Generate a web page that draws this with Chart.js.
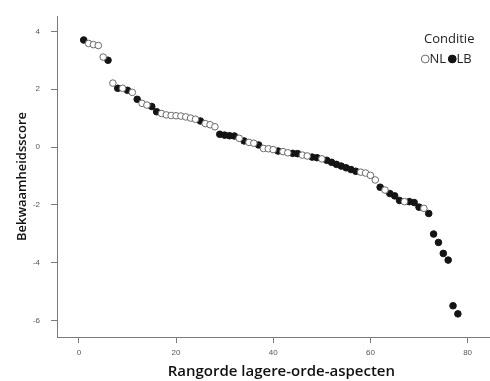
<!DOCTYPE html>
<html>
<head>
<meta charset="utf-8">
<script src="https://cdn.jsdelivr.net/npm/chart.js@4.4.1/dist/chart.umd.min.js"></script>
<style>
  html, body { margin:0; padding:0; background:#fff; overflow:hidden; }
  #wrap { position:relative; width:510px; height:381px; }
</style>
</head>
<body>
<div id="wrap"><canvas id="chart"></canvas></div>
<script>
'use strict';

// rank of each lower-order aspect (x) and its competence score (y)
const ranks = [
  1, 2, 3, 4, 5, 6, 7, 8, 9, 10, 11, 12, 13, 14, 15, 16, 17, 18, 19, 20,
  21, 22, 23, 24, 25, 26, 27, 28, 29, 30, 31, 32, 33, 34, 35, 36, 37, 38, 39, 40,
  41, 42, 43, 44, 45, 46, 47, 48, 49, 50, 51, 52, 53, 54, 55, 56, 57, 58, 59, 60,
  61, 62, 63, 64, 65, 66, 67, 68, 69, 70, 71, 72, 73, 74, 75, 76, 77, 78
];
const scores = [
  3.70, 3.58, 3.54, 3.51, 3.11, 3.00, 2.21, 2.03, 2.03, 1.96,
  1.89, 1.65, 1.51, 1.45, 1.40, 1.22, 1.16, 1.11, 1.09, 1.08,
  1.07, 1.04, 1.00, 0.96, 0.90, 0.81, 0.77, 0.70, 0.44, 0.41,
  0.39, 0.38, 0.30, 0.21, 0.16, 0.13, 0.07, -0.05, -0.06, -0.09,
  -0.14, -0.16, -0.20, -0.22, -0.23, -0.28, -0.31, -0.35, -0.37, -0.41,
  -0.46, -0.53, -0.60, -0.66, -0.72, -0.78, -0.84, -0.87, -0.90, -0.98,
  -1.14, -1.39, -1.49, -1.61, -1.69, -1.85, -1.89, -1.89, -1.92, -2.08,
  -2.12, -2.30, -3.01, -3.30, -3.68, -3.91, -5.49, -5.77
];
const conditions = [
  'LB','NL','NL','NL','NL','LB','NL','LB','NL','LB',
  'NL','LB','NL','NL','LB','LB','NL','NL','NL','NL',
  'NL','NL','NL','NL','LB','NL','NL','NL','LB','LB',
  'LB','LB','NL','LB','NL','NL','LB','NL','NL','NL',
  'LB','NL','NL','LB','LB','NL','NL','LB','LB','NL',
  'LB','LB','LB','LB','LB','LB','LB','NL','NL','NL',
  'NL','LB','NL','LB','LB','LB','NL','LB','LB','LB',
  'NL','LB','LB','LB','LB','LB','LB','LB'
];
const xTicks = [0, 20, 40, 60, 80];
const yTicks = [-6, -4, -2, 0, 2, 4];
const legendTitle = 'Conditie';
const groups = ['NL', 'LB'];

const pointsFor = cond => ranks
  .map((r, i) => ({ x: r, y: scores[i], c: conditions[i] }))
  .filter(p => p.c === cond)
  .map(p => ({ x: p.x, y: p.y }));

const styles = {
  NL: { bg:'#ffffff', border:'#6a6a6a' },
  LB: { bg:'#141414', border:'#141414' },
};

const axisColor = '#7a7a7a';
const tickFont = { family:'"Liberation Sans", Arial, sans-serif', size:8 };
const titleFont = { family:'"Open Sans", Lato, sans-serif', size:15, weight:'600' };

// legend in the upper right, drawn on the canvas
const legendPlugin = {
  id: 'condLegend',
  afterDraw(chart) {
    const ctx = chart.ctx;
    ctx.save();
    ctx.fillStyle = '#222';
    ctx.font = '13px "Open Sans", Lato, sans-serif';
    ctx.textBaseline = 'middle';
    ctx.textAlign = 'left';
    ctx.fillText(legendTitle, 424, 39);
    let x = 421;
    groups.forEach(g => {
      const s = styles[g];
      ctx.beginPath();
      ctx.arc(x + 4.2, 59, 3.9, 0, Math.PI * 2);
      ctx.fillStyle = s.bg; ctx.fill();
      ctx.lineWidth = 1; ctx.strokeStyle = s.border; ctx.stroke();
      ctx.fillStyle = '#222';
      ctx.fillText(g, x + 8.5, 59);
      x += 8.5 + ctx.measureText(g).width + 2;
    });
    ctx.restore();
  }
};

new Chart(document.getElementById('chart'), {
  type: 'scatter',
  data: {
    datasets: groups.map(g => ({
      label: g,
      data: pointsFor(g),
      backgroundColor: styles[g].bg,
      borderColor: styles[g].border,
      borderWidth: 1,
      pointRadius: 3.3,
      pointHoverRadius: 3.3,
    })),
  },
  options: {
    responsive: true, maintainAspectRatio: false, animation: false,
    layout: { padding: { left:0, right:2, top:16, bottom:0 } },
    plugins: { legend:{ display:false }, tooltip:{ enabled:false } },
    scales: {
      x: {
        type: 'linear', min: -4.5, max: 87.84,
        afterBuildTicks: s => { s.ticks = xTicks.map(v => ({ value:v })); },
        afterFit: s => { s.height = 44; },
        border: { display:true, color:axisColor, width:1 },
        grid: { display:true, drawOnChartArea:false, drawTicks:true, tickLength:6, color:axisColor },
        ticks: { color:'#555', font:tickFont, padding:5, maxRotation:0, callback: v => String(v) },
        title: { display:true, text:'Rangorde lagere-orde-aspecten', color:'#111', font:titleFont, padding:{ top:0, bottom:0 } },
      },
      y: {
        type: 'linear', min: -6.57, max: 4.53,
        afterBuildTicks: s => { s.ticks = yTicks.map(v => ({ value:v })); },
        afterFit: s => { s.width = 57; },
        border: { display:true, color:axisColor, width:1 },
        grid: { display:true, drawOnChartArea:false, drawTicks:true, tickLength:6, color:axisColor },
        ticks: { color:'#555', font:tickFont, padding:11, callback: v => String(v) },
        title: { display:true, text:'Bekwaamheidsscore', color:'#111', font:{ ...titleFont, size:13 }, padding:{ top:14, bottom:0 } },
      },
    },
  },
  plugins: [legendPlugin],
});
</script>
</body>
</html>
